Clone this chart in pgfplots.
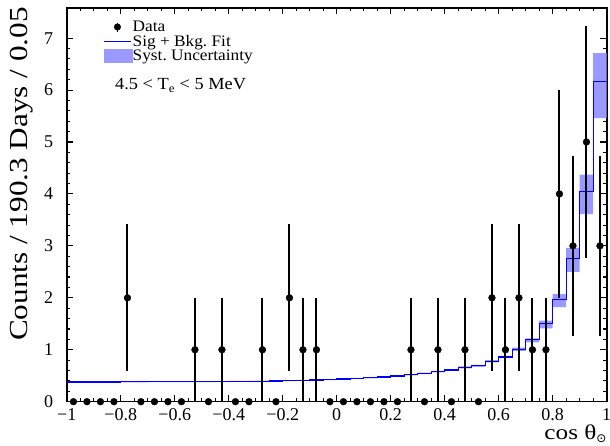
\documentclass[border=0pt]{standalone}
\usepackage{fontspec}
\setmainfont{Liberation Serif}
\newfontfamily\widefont[FakeStretch=1.2]{Liberation Serif}
\newfontfamily\legfont[FakeStretch=1.08]{Liberation Serif}
\newfontfamily\symfont{DejaVu Sans}
\usepackage{pgfplots}
\usepackage{pgfplotstable}
\pgfplotsset{compat=1.18}
\usepgfplotslibrary{fillbetween}
\definecolor{bandcol}{RGB}{153,153,255}
\definecolor{fitblue}{RGB}{0,0,255}
\pgfplotsset{
  dataleg/.style={legend image code/.code={\draw[black,line width=1.8pt] (13.5pt,-5pt)--(13.5pt,4pt); \fill[black] (13.5pt,0pt) circle (3.3pt);}},
  fitleg/.style={legend image code/.code={\draw[color=fitblue,line width=1.5pt] (0pt,0pt)--(27pt,0pt);}},
  bandleg/.style={legend image code/.code={\fill[bandcol] (0pt,-6.5pt) rectangle (28pt,6.5pt);}},
}

\pgfplotstableread{
x y ep em
-0.975 0 0 0
-0.925 0 0 0
-0.875 0 0 0
-0.825 0 0 0
-0.775 2 1.414 1.414
-0.725 0 0 0
-0.675 0 0 0
-0.625 0 0 0
-0.575 0 0 0
-0.525 1 1 1
-0.475 0 0 0
-0.425 1 1 1
-0.375 0 0 0
-0.325 0 0 0
-0.275 1 1 1
-0.225 0 0 0
-0.175 2 1.414 1.414
-0.125 1 1 1
-0.075 1 1 1
-0.025 0 0 0
0.025 0 0 0
0.075 0 0 0
0.125 0 0 0
0.175 0 0 0
0.225 0 0 0
0.275 1 1 1
0.325 0 0 0
0.375 1 1 1
0.425 0 0 0
0.475 1 1 1
0.525 0 0 0
0.575 2 1.414 1.414
0.625 1 1 1
0.675 2 1.414 1.414
0.725 1 1 1
0.775 1 1 1
0.825 4 2 2
0.875 3 1.732 1.732
0.925 5 2.236 2.236
0.975 3 1.732 1.732
}\datatab

\pgfplotstableread{
x y lo hi
-1.00 0.380 0.372 0.388
-0.95 0.380 0.372 0.388
-0.90 0.381 0.373 0.389
-0.85 0.381 0.373 0.389
-0.80 0.382 0.374 0.390
-0.75 0.382 0.374 0.390
-0.70 0.383 0.375 0.391
-0.65 0.384 0.376 0.392
-0.60 0.385 0.377 0.393
-0.55 0.386 0.378 0.394
-0.50 0.387 0.379 0.395
-0.45 0.389 0.381 0.397
-0.40 0.391 0.383 0.399
-0.35 0.393 0.385 0.401
-0.30 0.396 0.388 0.404
-0.25 0.400 0.392 0.408
-0.20 0.405 0.397 0.413
-0.15 0.411 0.402 0.420
-0.10 0.418 0.409 0.427
-0.05 0.426 0.417 0.435
0.00 0.436 0.426 0.446
0.05 0.447 0.437 0.457
0.10 0.461 0.450 0.472
0.15 0.477 0.466 0.488
0.20 0.496 0.484 0.508
0.25 0.518 0.505 0.531
0.30 0.545 0.531 0.559
0.35 0.578 0.563 0.593
0.40 0.612 0.596 0.628
0.45 0.660 0.642 0.678
0.50 0.690 0.671 0.709
0.55 0.780 0.758 0.802
0.60 0.860 0.840 0.880
0.65 1.010 0.980 1.040
0.70 1.190 1.140 1.220
0.75 1.500 1.410 1.560
0.80 1.960 1.820 2.070
0.85 2.760 2.500 2.960
0.90 4.050 3.610 4.370
0.95 6.170 5.460 6.710
1.00 6.170 5.460 6.710
}\fittab

\begin{document}
\begin{tikzpicture}
\begin{axis}[
  scale only axis, width=540pt, height=393.7pt,
  xmin=-1, xmax=1, ymin=0, ymax=7.58,
  xtick={-1,-0.8,-0.6,-0.4,-0.2,0,0.2,0.4,0.6,0.8,1},
  xticklabels={−1,−0.8,−0.6,−0.4,−0.2,0,0.2,0.4,0.6,0.8,1},
  ytick={0,1,2,3,4,5,6,7},
  minor x tick num=3, minor y tick num=4,
  tick align=inside,
  major tick length=6.5pt, minor tick length=3.5pt,
  every tick/.style={black, line width=1.1pt},
  axis line style={line width=1.6pt},
  /pgf/number format/assume math mode=true,
  ticklabel style={font=\fontsize{18}{18}\selectfont},
  xticklabel style={inner sep=0pt, yshift=-7pt},
  yticklabel style={inner sep=0pt, xshift=-13.5pt},
  every axis y label/.style={at={(axis description cs:-0.0735,1.0025)}, rotate=90, anchor=base east, inner sep=0pt, font=\widefont\fontsize{26}{26}\selectfont},
  every axis x label/.style={at={(axis description cs:1,0)}, anchor=base east, inner sep=0pt, yshift=-37.5pt, font=\widefont\fontsize{21}{21}\selectfont},
  ylabel={Counts / 190.3 Days / 0.05},
  xlabel={cos θ\raisebox{-0.18em}{\symfont\fontsize{12}{12}\selectfont ⊙}},
  legend style={at={(axis description cs:0.0672,0.969)}, anchor=north west, draw=none, fill=none, inner sep=0pt, row sep=0.8pt, font=\legfont\fontsize{16}{16}\selectfont, nodes={inner sep=0.6pt}},
  legend cell align=left,
]
\addlegendimage{dataleg}
\addlegendentry{Data}
\addlegendimage{fitleg}
\addlegendentry{Sig + Bkg.\ Fit}
\addlegendimage{bandleg}
\addlegendentry{Syst.\ Uncertainty}

\addplot[name path=lo, const plot, draw=none, forget plot] table[x=x, y=lo] {\fittab};
\addplot[name path=hi, const plot, draw=none, forget plot] table[x=x, y=hi] {\fittab};
\addplot[bandcol, forget plot] fill between[of=lo and hi];
\addplot[const plot, fitblue, line width=1.2pt, forget plot] table[x=x, y=y] {\fittab};
\addplot[only marks, mark=*, mark size=3.4pt, black, mark options={fill=black}, forget plot,
  error bars/.cd, y dir=both, y explicit, error mark=none, error bar style={line width=2pt, black}]
  table[x=x, y=y, y error plus=ep, y error minus=em] {\datatab};

\node[anchor=base west, inner sep=0pt, font=\legfont\fontsize{17}{17}\selectfont] at (axis description cs:0.0894,0.7917) {4.5 < T\textsubscript{e} < 5 MeV};
\end{axis}
\pgfresetboundingbox
\path ([xshift=-66.7pt,yshift=-44.3pt]current axis.south west) rectangle ([xshift=3.3pt,yshift=8pt]current axis.north east);
\end{tikzpicture}
\end{document}
